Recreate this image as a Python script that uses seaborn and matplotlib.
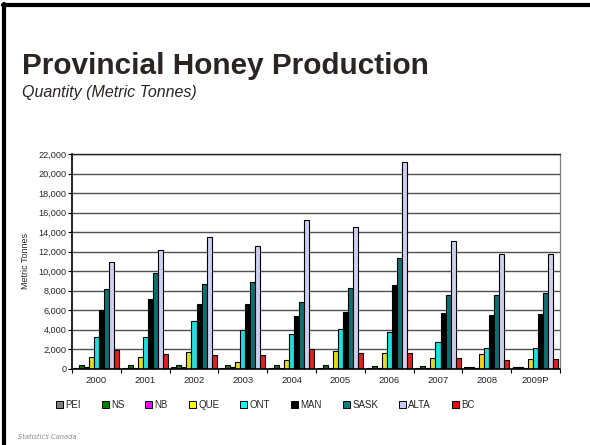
import matplotlib
matplotlib.use("Agg")
import matplotlib.pyplot as plt
from matplotlib.lines import Line2D
from matplotlib.patches import Patch
from matplotlib.ticker import FuncFormatter, MultipleLocator, FixedLocator
import numpy as np
import pandas as pd
import seaborn as sns

years = ["2000", "2001", "2002", "2003", "2004", "2005", "2006", "2007", "2008", "2009P"]
provinces = ["PEI", "NS", "NB", "QUE", "ONT", "MAN", "SASK", "ALTA", "BC"]

pei = [100, 90, 150, 100, 110, 80, 100, 100, 150, 170]
ns = [410, 350, 380, 410, 410, 380, 310, 280, 200, 200]
nb = [150, 120, 150, 150, 100, 100, 100, 120, 100, 100]
que = [1200, 1230, 1750, 720, 930, 1820, 1610, 1100, 1480, 1030]
ont = [3250, 3220, 4900, 3970, 3530, 4070, 3800, 2770, 2090, 2090]
man = [6060, 7150, 6600, 6640, 5440, 5780, 8550, 5700, 5480, 5610]
sask = [8180, 9790, 8660, 8860, 6850, 8250, 11360, 7600, 7530, 7800]
alta = [10950, 12200, 13500, 12600, 15200, 14500, 21200, 13100, 11770, 11770]
bc = [1890, 1540, 1440, 1440, 2020, 1570, 1610, 1130, 860, 960]

colors = ["#808080", "#008000", "#FF00FF", "#FFFF00", "#00FFFF",
          "#000000", "#008080", "#C8C8F5", "#FF0000"]

series = [pei, ns, nb, que, ont, man, sask, alta, bc]
df = pd.DataFrame({
    "Year": np.tile(years, len(provinces)),
    "Province": np.repeat(provinces, len(years)),
    "Tonnes": np.concatenate(series),
})

sns.set_theme(style="white")
plt.rcParams["font.family"] = ["Liberation Sans", "DejaVu Sans"]

fig = plt.figure(figsize=(5.9, 4.45), dpi=100)
W, H = 590, 445
ax = fig.add_axes([72 / W, 1 - 368.7 / H, (560 - 72) / W, (368.7 - 154) / H])

sns.barplot(data=df, x="Year", y="Tonnes", hue="Province", order=years,
            hue_order=provinces, palette=colors, width=0.93,
            edgecolor="black", linewidth=0.8, legend=False, ax=ax)

ax.set_ylim(0, 22000)
ax.set_xlim(-0.5, len(years) - 0.5)
ax.yaxis.set_major_locator(MultipleLocator(2000))
ax.yaxis.set_major_formatter(FuncFormatter(lambda v, p: f"{int(v):,}"))
ax.grid(axis="y", color="#505050", linewidth=1.0)
ax.set_axisbelow(True)

for side in ["left", "bottom"]:
    ax.spines[side].set_color("black")
    ax.spines[side].set_linewidth(1.2)
ax.spines["top"].set_color("#202020")
ax.spines["top"].set_linewidth(1.0)
ax.spines["right"].set_color("#808080")
ax.spines["right"].set_linewidth(0.9)

ax.tick_params(axis="y", which="major", length=3, width=0.8, color="black",
               labelsize=6.6, pad=1, left=True)
ax.tick_params(axis="x", which="major", length=0, labelsize=6.8, pad=5)
ax.xaxis.set_minor_locator(FixedLocator(np.arange(-0.5, len(years), 1.0)))
ax.tick_params(axis="x", which="minor", length=3, width=0.8, color="black",
               bottom=True)
ax.set_xlabel("")
ax.set_ylabel("Metric Tonnes", fontsize=6.5, labelpad=6)

handles = [Patch(facecolor=c, edgecolor="black", linewidth=0.7, label=p)
           for c, p in zip(colors, provinces)]
fig.legend(handles=handles, loc="center left", bbox_to_anchor=(52 / W, 1 - 405 / H),
           ncol=9, frameon=False, fontsize=7, handlelength=0.7, handleheight=0.7,
           handletextpad=0.25, columnspacing=2.17, borderaxespad=0)

fig.text(22 / W, 1 - 66 / H, "Provincial Honey Production", fontsize=21.4,
         fontweight="bold", color="#2a2522", va="center", ha="left")
fig.text(22 / W, 1 - 92 / H, "Quantity (Metric Tonnes)", fontsize=11.5,
         style="italic", color="#2a2522", va="center", ha="left")
fig.text(18 / W, 1 - 437 / H, "Statistics Canada", fontsize=4.9,
         style="italic", color="#8a8a8a", va="center", ha="left",
         family="DejaVu Sans")

fig.add_artist(Line2D([3 / W, 1], [1 - 5 / H, 1 - 5 / H], color="black",
                      linewidth=3, transform=fig.transFigure))
fig.add_artist(Line2D([4 / W, 4 / W], [1 - 4 / H, 0], color="black",
                      linewidth=3, transform=fig.transFigure))

fig.savefig("out.png", dpi=100)
